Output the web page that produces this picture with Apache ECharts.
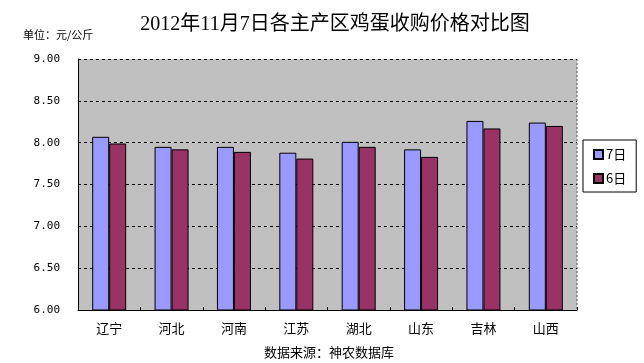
<!DOCTYPE html>
<html><head><meta charset="utf-8">
<script src="https://cdn.jsdelivr.net/npm/echarts@6/dist/echarts.min.js"></script>
<style>html,body{margin:0;padding:0;background:#fff}#c{width:644px;height:363px}</style>
</head><body><div id="c"></div>
<script>
var categories = ['辽宁','河北','河南','江苏','湖北','山东','吉林','山西'];
var day7 = [8.07, 7.95, 7.95, 7.88, 8.01, 7.92, 8.26, 8.24];
var day6 = [7.99, 7.92, 7.89, 7.81, 7.95, 7.83, 8.17, 8.20];
var seriesNames = ['7日','6日'];
var yMin = 6, yMax = 9, yStep = 0.5;

var chart = echarts.init(document.getElementById('c'));
var L=78, R=577, T=59, B=310;
chart.setOption({
  animation:false,
  backgroundColor:'#fff',
  title:[
    {text:'2012年11月7日各主产区鸡蛋收购价格对比图', left:330, top:10, textAlign:'center',
     textStyle:{fontFamily:'"Liberation Serif","Noto Sans CJK SC"', fontSize:20, fontWeight:'normal', color:'#000'}},
    {text:'单位：元/公斤', left:18, top:24,
     textStyle:{fontFamily:'"Noto Sans CJK SC"', fontSize:11, fontWeight:'normal', color:'#000'}},
    {text:'数据来源：神农数据库', left:324, top:341, textAlign:'center',
     textStyle:{fontFamily:'"Noto Sans CJK SC"', fontSize:13, fontWeight:'normal', color:'#000'}}
  ],
  legend:{
    orient:'vertical', left:583, top:140,
    padding:[8,10,7,10], itemGap:11,
    borderColor:'#000', borderWidth:1, backgroundColor:'#fff',
    itemWidth:9, itemHeight:9, icon:'rect',
    textStyle:{fontFamily:'"Noto Sans CJK SC"', fontSize:13, color:'#000', padding:[0,0,0,-2]},
    data:seriesNames
  },
  grid:{left:L, right:644-R, top:T, bottom:363-B, show:true, backgroundColor:'#C0C0C0', borderWidth:0},
  xAxis:{
    type:'category', data:categories,
    axisLine:{lineStyle:{color:'#000', width:1}},
    axisTick:{show:true, length:3, inside:true, lineStyle:{color:'#000'}},
    axisLabel:{fontFamily:'"Noto Sans CJK SC"', fontSize:13, color:'#000', margin:12}
  },
  yAxis:{
    type:'value', min:yMin, max:yMax, interval:yStep,
    axisLine:{show:true, lineStyle:{color:'#000'}},
    axisTick:{show:false},
    axisLabel:{formatter:function(v){return v.toFixed(2);}, fontFamily:'"DejaVu Sans Mono"', fontSize:11, color:'#000', margin:18},
    splitLine:{show:true, lineStyle:{color:'#000', type:[3,3], width:1}}
  },
  series:[
    {name:seriesNames[0], type:'bar', data:day7, barWidth:17, barGap:'0%',
     itemStyle:{color:'#9999FF', borderColor:'#000', borderWidth:1}},
    {name:seriesNames[1], type:'bar', data:day6, barWidth:17,
     itemStyle:{color:'#993366', borderColor:'#000', borderWidth:1}}
  ],
  graphic:[{type:'line', shape:{x1:R,y1:T,x2:R,y2:B}, style:{stroke:'#555', lineDash:[2,2], lineWidth:1}}]
});
</script></body></html>
